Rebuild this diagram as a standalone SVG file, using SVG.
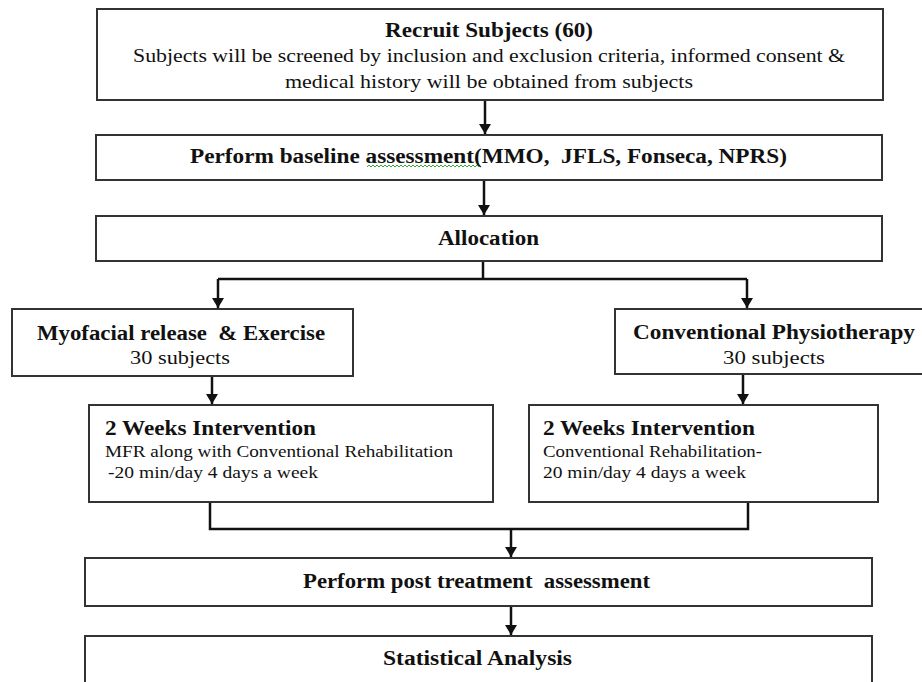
<svg xmlns="http://www.w3.org/2000/svg" width="922" height="682" viewBox="0 0 922 682">
<defs>
<style>
.box{fill:#fff;stroke:#333;stroke-width:2}
text{font-family:'Liberation Serif','DejaVu Serif',serif;fill:#111}
.b{font-weight:bold}
.c{fill:none;stroke:#111;stroke-width:2.5}
</style>
<marker id="ah" markerUnits="userSpaceOnUse" markerWidth="12" markerHeight="12" refX="10" refY="6" orient="auto">
<path d="M0,0 L10,6 L0,12 Z" fill="#111"/>
</marker>
</defs>
<rect width="922" height="682" fill="#fff"/>

<g id="connectors">
<path class="c" d="M485,100 V134" marker-end="url(#ah)"/>
<path class="c" d="M484,180 V215" marker-end="url(#ah)"/>
<path class="c" d="M483,261 V279"/>
<path class="c" d="M218,279 H747"/>
<path class="c" d="M218,279 V308" marker-end="url(#ah)"/>
<path class="c" d="M747,279 V308" marker-end="url(#ah)"/>
<path class="c" d="M212,376 V404" marker-end="url(#ah)"/>
<path class="c" d="M743,374 V404" marker-end="url(#ah)"/>
<path class="c" d="M210,502 V529 H748 V502"/>
<path class="c" d="M511,529 V557" marker-end="url(#ah)"/>
<path class="c" d="M511,606 V635" marker-end="url(#ah)"/>
</g>

<g id="recruit" font-family="Liberation Serif">
<rect class="box" x="97" y="9" width="786" height="91"/>
<text class="b" x="489" y="37" font-size="21" text-anchor="middle" textLength="208" lengthAdjust="spacingAndGlyphs">Recruit Subjects (60)</text>
<text x="489" y="62" font-size="19" text-anchor="middle" textLength="712" lengthAdjust="spacingAndGlyphs">Subjects will be screened by inclusion and exclusion criteria, informed consent &amp;</text>
<text x="489" y="88" font-size="19" text-anchor="middle" textLength="408" lengthAdjust="spacingAndGlyphs">medical history will be obtained from subjects</text>
</g>

<g id="baseline">
<rect class="box" x="96" y="135" width="786" height="45"/>
<text class="b" x="488.5" y="163" font-size="20" text-anchor="middle" textLength="597" lengthAdjust="spacingAndGlyphs" xml:space="preserve">Perform baseline assessment(MMO,  JFLS, Fonseca, NPRS)</text>
<path d="M367,167 l2,-2 l2,2 l2,-2 l2,2 l2,-2 l2,2 l2,-2 l2,2 l2,-2 l2,2 l2,-2 l2,2 l2,-2 l2,2 l2,-2 l2,2 l2,-2 l2,2 l2,-2 l2,2 l2,-2 l2,2 l2,-2 l2,2 l2,-2 l2,2 l2,-2 l2,2 l2,-2 l2,2 l2,-2 l2,2 l2,-2 l2,2 l2,-2 l2,2 l2,-2 l2,2 l2,-2 l2,2 l2,-2 l2,2 l2,-2 l2,2 l2,-2 l2,2 l2,-2 l2,2 l2,-2 l2,2 l2,-2 l2,2 l2,-2 l2,2 l2,-2 l2,2" fill="none" stroke="#3a3" stroke-width="1"/>
</g>

<g id="allocation">
<rect class="box" x="96" y="216" width="786" height="45"/>
<text class="b" x="488.5" y="245" font-size="20" text-anchor="middle" textLength="101" lengthAdjust="spacingAndGlyphs">Allocation</text>
</g>

<g id="myofacial">
<rect class="box" x="12" y="309" width="341" height="67"/>
<text class="b" x="181" y="340" font-size="20" text-anchor="middle" textLength="288" lengthAdjust="spacingAndGlyphs" xml:space="preserve">Myofacial release  &amp; Exercise</text>
<text x="180" y="364" font-size="18" text-anchor="middle" textLength="100" lengthAdjust="spacingAndGlyphs">30 subjects</text>
</g>

<g id="conventional">
<rect class="box" x="615" y="309" width="320" height="65"/>
<text class="b" x="774" y="339" font-size="20" text-anchor="middle" textLength="282" lengthAdjust="spacingAndGlyphs">Conventional Physiotherapy</text>
<text x="774" y="364" font-size="18" text-anchor="middle" textLength="102" lengthAdjust="spacingAndGlyphs">30 subjects</text>
</g>

<g id="intervention-left">
<rect class="box" x="89" y="405" width="404" height="97"/>
<text class="b" x="105" y="435" font-size="20" textLength="211" lengthAdjust="spacingAndGlyphs">2 Weeks Intervention</text>
<text x="105" y="457" font-size="17" textLength="348" lengthAdjust="spacingAndGlyphs">MFR along with Conventional Rehabilitation</text>
<text x="108" y="478" font-size="17" textLength="210" lengthAdjust="spacingAndGlyphs">-20 min/day 4 days a week</text>
</g>

<g id="intervention-right">
<rect class="box" x="529" y="405" width="349" height="97"/>
<text class="b" x="543" y="435" font-size="20" textLength="212" lengthAdjust="spacingAndGlyphs">2 Weeks Intervention</text>
<text x="543" y="457" font-size="17" textLength="219" lengthAdjust="spacingAndGlyphs">Conventional Rehabilitation-</text>
<text x="543" y="478" font-size="17" textLength="203" lengthAdjust="spacingAndGlyphs">20 min/day 4 days a week</text>
</g>

<g id="post-treatment">
<rect class="box" x="85" y="558" width="787" height="48"/>
<text class="b" x="476.5" y="588" font-size="20" text-anchor="middle" textLength="347" lengthAdjust="spacingAndGlyphs" xml:space="preserve">Perform post treatment  assessment</text>
</g>

<g id="statistical">
<rect class="box" x="85" y="636" width="787" height="60"/>
<text class="b" x="477.5" y="665" font-size="20" text-anchor="middle" textLength="189" lengthAdjust="spacingAndGlyphs">Statistical Analysis</text>
</g>
</svg>
